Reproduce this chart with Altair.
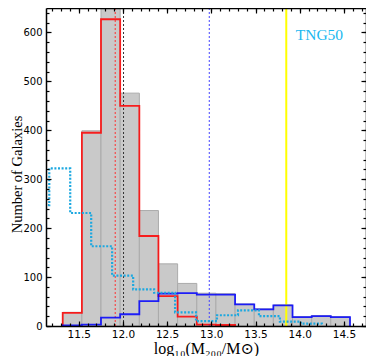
import altair as alt
import pandas as pd

# ---- data ----
edges = [11.319, 11.536, 11.752, 11.969, 12.186, 12.402, 12.619, 12.836,
         13.052, 13.269, 13.486, 13.702, 13.919, 14.136, 14.352, 14.569]
all_counts = [28, 399, 690, 476, 236, 127, 87, 67, 66, 45, 35, 43, 19, 21, 19]
red_counts = [27, 395, 627, 450, 184, 61, 19, 3, 2]
blue_counts = [1, 3, 17, 24, 51, 66, 67, 64, 64, 44, 34, 42, 18, 20, 18]
cyan_edges = [10.930, 11.167, 11.404, 11.641, 11.878, 12.116, 12.353, 12.590,
              12.827, 13.064, 13.302, 13.539, 13.776, 14.013, 14.250]
cyan_counts = [247, 322, 231, 163, 103, 75, 68, 28, 10, 22, 32, 20, 9, 5]

vline_x = [11.913, 12.007, 12.977, 13.848]
vline_name = ["red", "black", "blue", "yellow"]

label_text = ["TNG50"]
label_x = [13.955]
label_y = [584]

x_major = [11.5, 12.0, 12.5, 13.0, 13.5, 14.0, 14.5]
x_minor = [round(11.2 + 0.1 * i, 1) for i in range(36)]
y_major = [0, 100, 200, 300, 400, 500, 600]
y_minor = list(range(0, 660, 20))

XDOM = [11.13, 14.75]
YDOM = [0, 650]

# ---- tables ----
bars = pd.DataFrame({"x": edges[:-1], "x2": edges[1:], "n": all_counts})


def step_table(e, c):
    rows = [{"x": e[0], "y": 0, "o": 0}]
    for i, v in enumerate(c):
        rows.append({"x": e[i], "y": v, "o": i + 1})
    rows.append({"x": e[len(c)], "y": 0, "o": len(c) + 1})
    return pd.DataFrame(rows)


red_df = step_table(edges, red_counts)
blue_df = step_table(edges, blue_counts)
cyan_df = step_table(cyan_edges, cyan_counts)
vl_df = pd.DataFrame({"x": vline_x, "name": vline_name})
txt_df = pd.DataFrame({"x": label_x, "y": label_y, "t": label_text})

xs = alt.Scale(domain=XDOM, nice=False, zero=False)
ys = alt.Scale(domain=YDOM, nice=False, zero=False)

TICKFONT = "DejaVu Sans"
SERIF = "Liberation Serif, DejaVu Serif, serif"


def ax(orient, values, size, major, labels=False, title=None, fmt=None, pad=0,
       fs=10.5, **kw):
    args = dict(orient=orient, values=values, tickSize=alt.ExprRef(expr=str(-size)),
                tickColor="black", tickWidth=1.2, grid=False, domain=major,
                domainColor="black", domainWidth=1.5, labels=labels, zindex=1,
                title=title)
    if labels:
        args.update(labelFont=TICKFONT, labelFontSize=fs, labelColor="black",
                    labelPadding=pad, labelOverlap=False, labelFlush=False,
                    labelBound=False)
        if fmt:
            args["format"] = fmt
    args.update(kw)
    return alt.Axis(**args)


x_bottom = ax("bottom", x_major, 5, True, labels=True,
              title="log₁₀(M₂₀₀/M⊙)", fmt=".1f", pad=8,
              titleFont=SERIF, titleFontSize=16, titleFontWeight="normal",
              titleColor="black", titleBaseline="alphabetic", titleY=27)
x_bottom_minor = ax("bottom", x_minor, 3, False)
x_top = ax("top", x_major, 5, True)
x_top_minor = ax("top", x_minor, 3, False)

y_left = ax("left", y_major, 5, True, labels=True, title="Number of Galaxies",
            fmt="d", pad=9, fs=10, titleFont=SERIF, titleFontSize=14.5,
            titleFontWeight="normal", titleColor="black",
            titleBaseline="alphabetic", titleX=-25, titleY=166)
y_left_minor = ax("left", y_minor, 3, False)
y_right = ax("right", y_major, 5, True)
y_right_minor = ax("right", y_minor, 3, False)

gray = alt.Chart(bars).mark_rect(fill="#c9c9c9", stroke="#ababab",
                                 strokeWidth=1, clip=True).encode(
    x=alt.X("x:Q", scale=xs, axis=x_bottom),
    x2="x2:Q",
    y=alt.Y("n:Q", scale=ys, axis=y_left),
    y2=alt.datum(0),
)


def step(df, color, width, xaxis, yaxis, dash=None, opacity=1.0):
    kw = dict(interpolate="step-after", color=color, strokeWidth=width,
              clip=True, opacity=opacity)
    if dash:
        kw["strokeDash"] = dash
    return alt.Chart(df).mark_line(**kw).encode(
        x=alt.X("x:Q", scale=xs, axis=xaxis),
        y=alt.Y("y:Q", scale=ys, axis=yaxis),
        order="o:Q",
    )


red = step(red_df, "#ff0000", 1.8, x_bottom_minor, y_left_minor, opacity=0.85)
blue = step(blue_df, "#0000ff", 1.8, x_top, y_right, opacity=0.85)
cyan = step(cyan_df, "#1ca8e0", 2.2, x_top_minor, y_right_minor, dash=[2, 1.6])

vcolors = alt.Scale(domain=vline_name,
                    range=["#ff3030", "#333333", "#4444ff", "#ffff00"])
dotted = alt.Chart(vl_df).transform_filter("datum.name != 'yellow'").mark_rule(
    strokeWidth=1, strokeDash=[2, 2]).encode(
    x=alt.X("x:Q", scale=xs, axis=None),
    color=alt.Color("name:N", scale=vcolors, legend=None),
)
yellow = alt.Chart(vl_df).transform_filter("datum.name == 'yellow'").mark_rule(
    strokeWidth=2).encode(
    x=alt.X("x:Q", scale=xs, axis=None),
    color=alt.Color("name:N", scale=vcolors, legend=None),
)

txt = alt.Chart(txt_df).mark_text(align="left", baseline="alphabetic",
                                  font="Liberation Serif", fontSize=15.5,
                                  color="#1ab8f0").encode(
    x=alt.X("x:Q", scale=xs, axis=None),
    y=alt.Y("y:Q", scale=ys, axis=None),
    text="t:N",
)

chart = alt.layer(gray, dotted, yellow, red, blue, cyan, txt).resolve_axis(
    x="independent", y="independent"
).properties(
    width=320, height=318,
    autosize=alt.AutoSizeParams(type="none"),
    padding={"left": 38, "top": 0, "right": 0, "bottom": 30},
).configure_view(stroke="transparent")

chart.save("out.html", embed_options={"renderer": "svg", "actions": False})
